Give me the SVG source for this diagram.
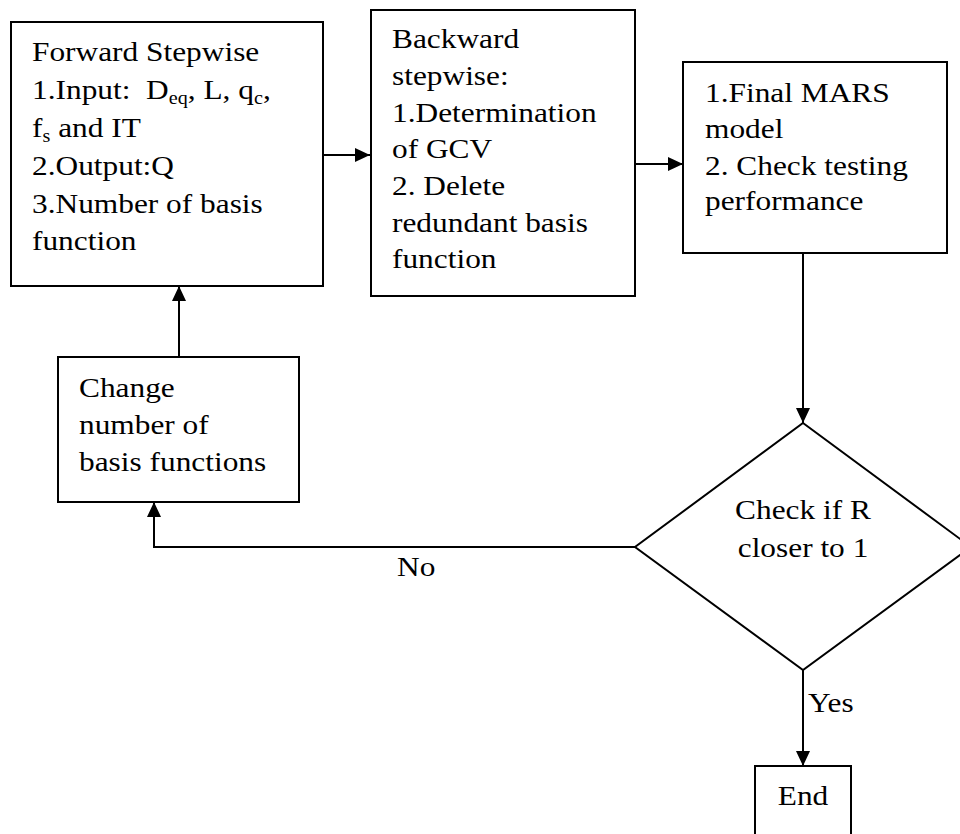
<svg xmlns="http://www.w3.org/2000/svg" width="960" height="834" viewBox="0 0 960 834">
<style>
.box{fill:#fff;stroke:#000;stroke-width:2}
.t{font-family:"Liberation Serif","Times New Roman",serif;font-size:28px;fill:#000}
.c{text-anchor:middle}
.sub{font-size:18px}
.ln{fill:none;stroke:#000;stroke-width:2}
</style>
<defs>
<marker id="ah" markerUnits="userSpaceOnUse" markerWidth="16" markerHeight="14" refX="15" refY="7" orient="auto">
<path d="M0,0 L15,7 L0,14 Z" fill="#000"/>
</marker>
</defs>
<rect width="960" height="834" fill="#fff"/>
<g id="connectors">
<line class="ln" x1="323" y1="155" x2="370" y2="155" marker-end="url(#ah)"/>
<line class="ln" x1="635" y1="164" x2="683" y2="164" marker-end="url(#ah)"/>
<line class="ln" x1="803" y1="253" x2="803" y2="423" marker-end="url(#ah)"/>
<line class="ln" x1="803" y1="670" x2="803" y2="766" marker-end="url(#ah)"/>
<polyline class="ln" points="636,547 154,547 154,502" marker-end="url(#ah)"/>
<line class="ln" x1="179" y1="358" x2="179" y2="286" marker-end="url(#ah)"/>
<g transform="translate(397,0) scale(1.12,1)"><text class="t" x="0" y="576">No</text></g>
<g transform="translate(808,0) scale(1.12,1)"><text class="t" x="0" y="712">Yes</text></g>
</g>
<g id="forward">
<rect class="box" x="11" y="22" width="312" height="264"/>
<g transform="translate(32,0) scale(1.12,1)">
<text class="t" x="0" y="61">Forward Stepwise</text>
<text class="t" x="0" y="99" xml:space="preserve">1.Input:  D<tspan class="sub" dy="5">eq</tspan><tspan dy="-5">, L, q</tspan><tspan class="sub" dy="5">c</tspan><tspan dy="-5">,</tspan></text>
<text class="t" x="0" y="137">f<tspan class="sub" dy="5">s</tspan><tspan dy="-5"> and IT</tspan></text>
<text class="t" x="0" y="175">2.Output:Q</text>
<text class="t" x="0" y="213">3.Number of basis</text>
<text class="t" x="0" y="250">function</text>
</g>
</g>
<g id="backward">
<rect class="box" x="371" y="10" width="264" height="286"/>
<g transform="translate(392,0) scale(1.12,1)">
<text class="t" x="0" y="48">Backward</text>
<text class="t" x="0" y="85">stepwise:</text>
<text class="t" x="0" y="122">1.Determination</text>
<text class="t" x="0" y="158">of GCV</text>
<text class="t" x="0" y="195">2. Delete</text>
<text class="t" x="0" y="232">redundant basis</text>
<text class="t" x="0" y="268">function</text>
</g>
</g>
<g id="final">
<rect class="box" x="683" y="62" width="264" height="191"/>
<g transform="translate(705,0) scale(1.12,1)">
<text class="t" x="0" y="102">1.Final MARS</text>
<text class="t" x="0" y="138">model</text>
<text class="t" x="0" y="175">2. Check testing</text>
<text class="t" x="0" y="210">performance</text>
</g>
</g>
<g id="change">
<rect class="box" x="58" y="357" width="241" height="145"/>
<g transform="translate(79,0) scale(1.12,1)">
<text class="t" x="0" y="397">Change</text>
<text class="t" x="0" y="434">number of</text>
<text class="t" x="0" y="471">basis functions</text>
</g>
</g>
<g id="decision">
<polygon class="box" points="803,423 971,547 803,670 635,547"/>
<g transform="translate(803,0) scale(1.12,1)">
<text class="t c" x="0" y="519">Check if R</text>
<text class="t c" x="0" y="557">closer to 1</text>
</g>
</g>
<g id="end">
<rect class="box" x="755" y="766" width="96" height="80"/>
<g transform="translate(803,0) scale(1.12,1)">
<text class="t c" x="0" y="805">End</text>
</g>
</g>
</svg>
